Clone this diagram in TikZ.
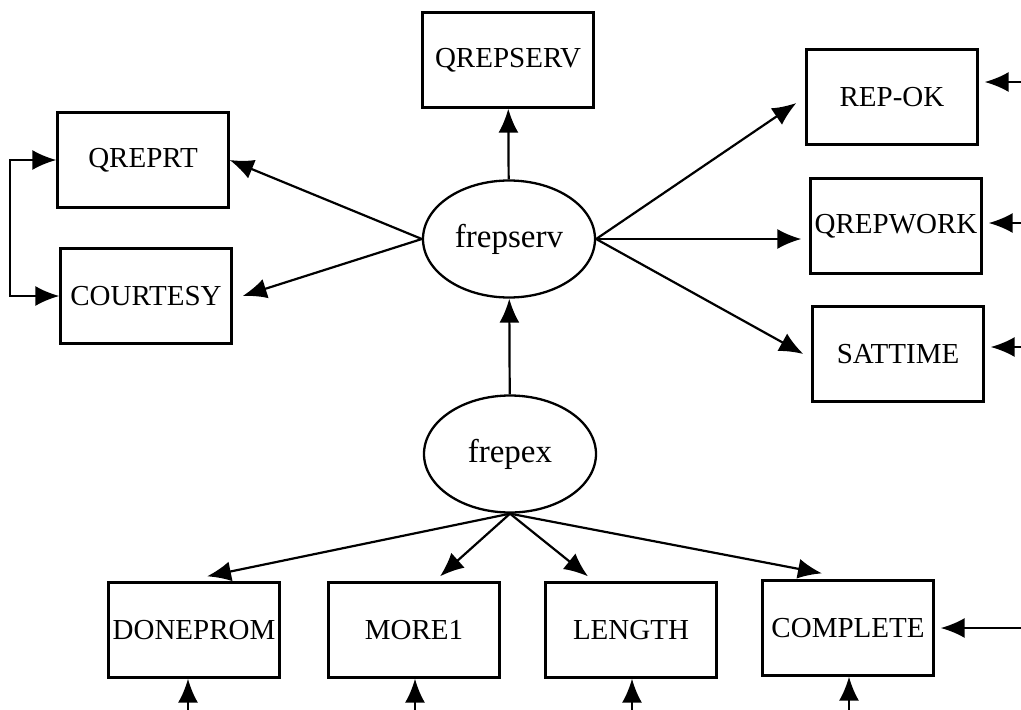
\documentclass[tikz,border=0pt]{standalone}
\usepackage{fontspec}
\setmainfont{Liberation Serif}
\usetikzlibrary{arrows.meta,shapes.geometric}

\begin{document}
\begin{tikzpicture}[x=1pt,y=-1pt,
  obs/.style={draw,line width=2.3pt,minimum width=171pt,minimum height=95pt,inner sep=0pt,font=\fontsize{29}{32}\selectfont},
  lat/.style={draw,ellipse,line width=2.3pt,minimum width=172pt,minimum height=117pt,inner sep=0pt,font=\fontsize{33}{36}\selectfont},
  arr/.style={line width=2.2pt,-{Latex[length=24pt,width=20pt]}}]
\useasboundingbox (0,0) rectangle (1021,710);
\node[obs] (qrepserv) at (508,60) {QREPSERV};
\node[obs] (qreprt) at (143,160) {QREPRT};
\node[obs] (courtesy) at (146,296) {COURTESY};
\node[obs] (repok) at (892,97) {REP-OK};
\node[obs] (qrepwork) at (896,226) {QREPWORK};
\node[obs] (sattime) at (898,354) {SATTIME};
\node[lat] (frepserv) at (509,239) {frepserv};
\node[lat] (frepex) at (510,454) {frepex};
\node[obs] (doneprom) at (194,630) {DONEPROM};
\node[obs] (more1) at (414,630) {MORE1};
\node[obs] (length) at (631,630) {LENGTH};
\node[obs] (complete) at (848,628) {COMPLETE};

\draw[arr] (frepserv) -- (qrepserv);
\draw[arr] (frepserv.west) -- (qreprt.east);
\draw[arr] (frepserv.west) -- ([xshift=10pt]courtesy.east);
\draw[arr] (frepserv.east) -- ([xshift=-9pt,yshift=-6pt]repok.west);
\draw[arr,shorten >=8pt] (frepserv.east) -- (frepserv.east -| qrepwork.west);
\draw[arr] (frepserv.east) -- ([xshift=-8pt]sattime.west);
\draw[arr] (frepex) -- (frepserv);

\draw[arr] (frepex.south) -- ([xshift=13pt,yshift=5pt]doneprom.north);
\draw[arr] (frepex.south) -- ([xshift=26pt,yshift=5pt]more1.north);
\draw[arr] (frepex.south) -- ([xshift=-43pt,yshift=5pt]length.north);
\draw[arr] (frepex.south) -- ([xshift=-26pt,yshift=6pt]complete.north);

\draw[line width=2.2pt,{Latex[length=24pt,width=20pt]}-{Latex[length=24pt,width=20pt]}]
  (qreprt.west) -- ++(-46,0) |- (courtesy.west);

\foreach \n/\y in {repok/82,qrepwork/223,sattime/347,complete/628}{
  \coordinate (e\n) at (1021,\y);
  \draw[arr,shorten >=6pt] (e\n) -- (e\n -| \n.east);
}
\foreach \n/\x in {doneprom/188,more1/415,length/632,complete/849}{
  \coordinate (b\n) at (\x,710);
  \draw[arr] (b\n) -- (b\n |- \n.south);
}
\end{tikzpicture}
\end{document}
